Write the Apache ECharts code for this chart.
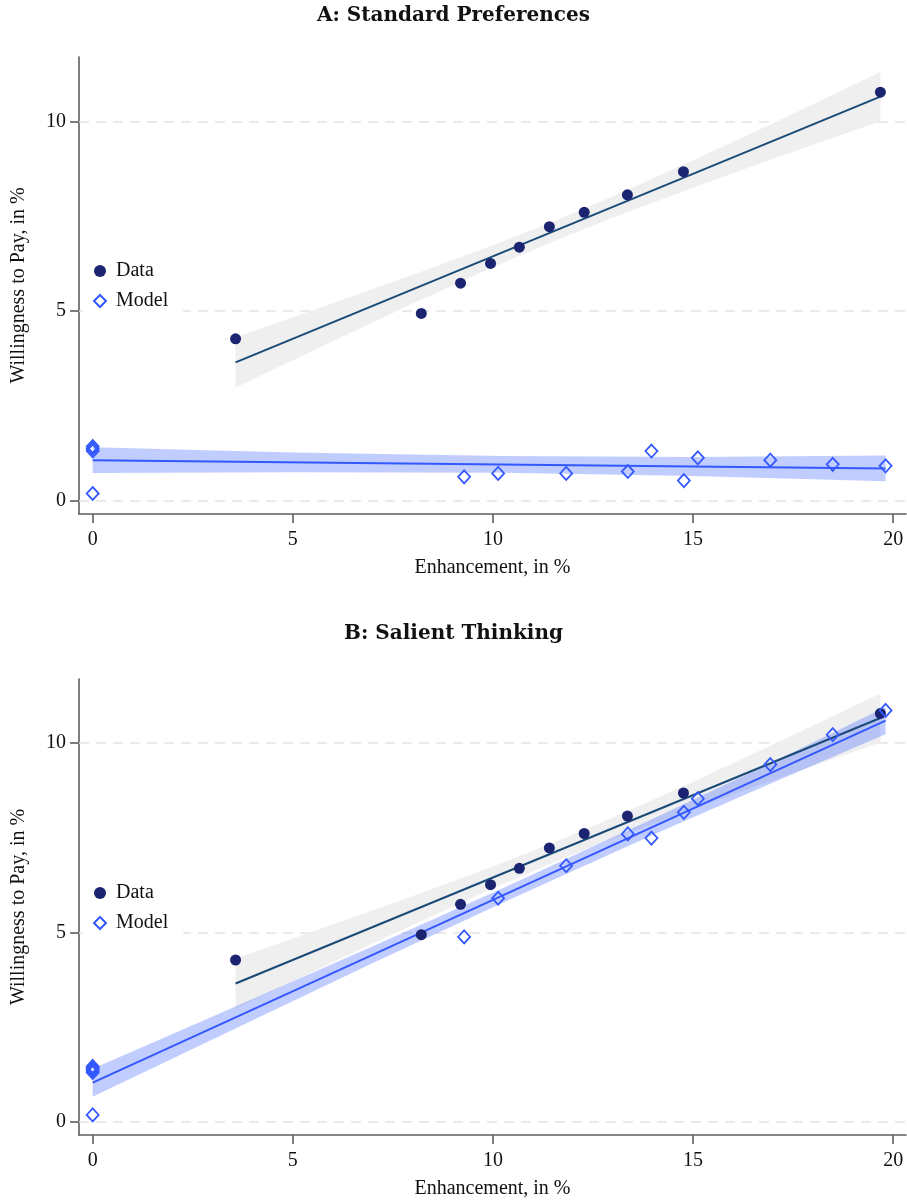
<!DOCTYPE html>
<html>
<head>
<meta charset="utf-8">
<title>Willingness to Pay vs Enhancement</title>
<script src="https://cdn.jsdelivr.net/npm/echarts@6/dist/echarts.min.js"></script>
<style>
  html, body { margin: 0; padding: 0; background: #ffffff; }
  #chart { width: 907px; height: 1202px; }
</style>
</head>
<body>
<div id="chart"></div>
<script>
// ---- Observed data (same in both panels) ----
const dataX = [3.57, 8.21, 9.19, 9.94, 10.66, 11.41, 12.28, 13.36, 14.76, 19.68];
const dataY = [4.27, 4.94, 5.74, 6.26, 6.69, 7.23, 7.61, 8.07, 8.68, 10.78];

// Linear fit of the observed data and its confidence band
const dataFitX = [3.57, 19.68];
const dataFitY = [3.65, 10.66];
const dataBandX  = [3.57, 6, 8, 10, 11.5, 13, 15, 17, 19.68];
const dataBandLo = [2.99, 4.21, 5.20, 6.16, 6.84, 7.47, 8.26, 9.02, 10.01];
const dataBandHi = [4.31, 5.21, 5.96, 6.74, 7.36, 8.03, 8.98, 9.96, 11.31];

// ---- Panel A: standard preferences model ----
const modelAX = [0, 0, 0, 0, 9.28, 10.13, 11.83, 13.37, 13.96, 14.77, 15.12, 16.93, 18.49, 19.81];
const modelAY = [1.43, 1.37, 1.31, 0.19, 0.63, 0.72, 0.72, 0.77, 1.31, 0.53, 1.13, 1.07, 0.96, 0.92];
const modelAFitX = [0, 19.81];
const modelAFitY = [1.07, 0.85];
const modelABandX  = [0, 5, 10.26, 15, 19.81];
const modelABandLo = [0.73, 0.75, 0.74, 0.65, 0.51];
const modelABandHi = [1.41, 1.27, 1.18, 1.15, 1.19];

// ---- Panel B: salient thinking model ----
const modelBX = [0, 0, 0, 0, 0, 0, 9.28, 10.13, 11.83, 13.37, 13.96, 14.77, 15.12, 16.93, 18.49, 19.81];
const modelBY = [1.46, 1.42, 1.38, 1.34, 1.30, 0.18, 4.88, 5.90, 6.76, 7.60, 7.49, 8.17, 8.53, 9.43, 10.22, 10.86];
const modelBFitX = [0, 19.81];
const modelBFitY = [1.03, 10.59];
const modelBBandX  = [0, 3.5, 7, 10.26, 14, 17, 19.81];
const modelBBandLo = [0.66, 2.43, 4.19, 5.79, 7.58, 8.96, 10.23];
const modelBBandHi = [1.40, 3.01, 4.63, 6.17, 8.00, 9.50, 10.95];

// ---- Axis ticks and text ----
const xTicks = [0, 5, 10, 15, 20];
const yTicks = [0, 5, 10];
const panelTitles = ['A: Standard Preferences', 'B: Salient Thinking'];
const xTitle = 'Enhancement, in %';
const yTitle = 'Willingness to Pay, in %';
const seriesNames = ['Data', 'Model'];

// ---- Styling ----
const SERIF = '"Liberation Serif", "Times New Roman", serif';
const TITLE_FONT = '"DejaVu Serif", serif';
const C_DOT = '#1b2470';
const C_DATA_LINE = '#1a4a78';
const C_DATA_BAND = '#efefef';
const C_MODEL = '#3358ff';
const C_MODEL_BAND = 'rgba(51, 88, 255, 0.30)';
const AXIS_GRAY = '#5e5e5e';

const zip = (xs, ys) => xs.map((x, i) => [x, ys[i]]);

// Shaded confidence band drawn as one polygon: upper edge left->right, lower edge back
function bandSeries(gridIdx, xs, lo, hi, fill, z) {
  return {
    type: 'custom',
    xAxisIndex: gridIdx,
    yAxisIndex: gridIdx,
    silent: true,
    z: z,
    data: xs.map((x, i) => [x, lo[i], hi[i]]),
    renderItem: function (params, api) {
      if (params.dataIndex !== 0) return null;
      const pts = [];
      for (let i = 0; i < xs.length; i++) pts.push(api.coord([xs[i], hi[i]]));
      for (let i = xs.length - 1; i >= 0; i--) pts.push(api.coord([xs[i], lo[i]]));
      return { type: 'polygon', shape: { points: pts }, style: { fill: fill } };
    }
  };
}

function fitSeries(gridIdx, xs, ys, color, width, z) {
  return {
    type: 'line',
    xAxisIndex: gridIdx,
    yAxisIndex: gridIdx,
    data: zip(xs, ys),
    showSymbol: false,
    symbol: 'none',
    silent: true,
    z: z,
    lineStyle: { color: color, width: width },
    emphasis: { disabled: true }
  };
}

function dotSeries(gridIdx) {
  return {
    name: seriesNames[0],
    type: 'scatter',
    xAxisIndex: gridIdx,
    yAxisIndex: gridIdx,
    data: zip(dataX, dataY),
    symbol: 'circle',
    symbolSize: 11,
    z: 5,
    itemStyle: { color: C_DOT, opacity: 1 },
    // dashed reference lines at the labelled y values
    markLine: {
      silent: true,
      symbol: 'none',
      label: { show: false },
      z: 1,
      lineStyle: { color: '#e4e4e4', type: [10, 7], width: 1.5 },
      data: yTicks.map(v => ({ yAxis: v }))
    }
  };
}

function diamondSeries(gridIdx, xs, ys) {
  return {
    name: seriesNames[1],
    type: 'scatter',
    xAxisIndex: gridIdx,
    yAxisIndex: gridIdx,
    data: zip(xs, ys),
    symbol: 'diamond',
    symbolSize: [12, 13],
    z: 6,
    itemStyle: { color: 'rgba(255,255,255,0)', borderColor: C_MODEL, borderWidth: 1.8, opacity: 1 }
  };
}

function xAxis(gridIdx) {
  return {
    type: 'value',
    gridIndex: gridIdx,
    min: -0.342,
    max: 20.32,
    name: xTitle,
    nameLocation: 'middle',
    nameGap: 44,
    nameTextStyle: { fontFamily: SERIF, fontSize: 20, color: '#111' },
    axisLine: { onZero: false, lineStyle: { color: AXIS_GRAY, width: 1.6 } },
    axisTick: { show: true, length: 9, customValues: xTicks, lineStyle: { color: AXIS_GRAY, width: 1.6 } },
    axisLabel: { customValues: xTicks, margin: 16, fontFamily: SERIF, fontSize: 20, color: '#111' },
    splitLine: { show: false }
  };
}

function yAxis(gridIdx, max) {
  return {
    type: 'value',
    gridIndex: gridIdx,
    min: -0.351,
    max: max,
    name: yTitle,
    nameLocation: 'middle',
    nameGap: 50,
    nameRotate: 90,
    nameTextStyle: { fontFamily: SERIF, fontSize: 20, color: '#111' },
    axisLine: { onZero: false, lineStyle: { color: AXIS_GRAY, width: 1.6 } },
    axisTick: { show: true, length: 9, customValues: yTicks, lineStyle: { color: AXIS_GRAY, width: 1.6 } },
    axisLabel: { customValues: yTicks, margin: 13, fontFamily: SERIF, fontSize: 20, color: '#111' },
    splitLine: { show: false }
  };
}

function legend(top) {
  return {
    orient: 'vertical',
    left: 83,
    top: top,
    padding: [5, 15, 5, 10],
    backgroundColor: '#ffffff',
    itemWidth: 12,
    itemHeight: 12,
    itemGap: 10,
    selectedMode: false,
    data: seriesNames,
    textStyle: { fontFamily: SERIF, fontSize: 20, color: '#111', lineHeight: 20, padding: [0, 0, 0, 5] }
  };
}

const chart = echarts.init(document.getElementById('chart'), null, { renderer: 'canvas' });

chart.setOption({
  animation: false,
  backgroundColor: '#ffffff',
  title: [
    { text: panelTitles[0], left: 'center', top: 1,
      textStyle: { fontFamily: TITLE_FONT, fontWeight: 'bold', fontSize: 20, color: '#111' } },
    { text: panelTitles[1], left: 'center', top: 619,
      textStyle: { fontFamily: TITLE_FONT, fontWeight: 'bold', fontSize: 20, color: '#111' } }
  ],
  legend: [legend(256), legend(878)],
  grid: [
    { left: 79, top: 57, width: 827, height: 457 },
    { left: 79, top: 679, width: 827, height: 456 }
  ],
  xAxis: [xAxis(0), xAxis(1)],
  yAxis: [yAxis(0, 11.707), yAxis(1, 11.69)],
  series: [
    // Panel A
    bandSeries(0, dataBandX, dataBandLo, dataBandHi, C_DATA_BAND, 1),
    bandSeries(0, modelABandX, modelABandLo, modelABandHi, C_MODEL_BAND, 2),
    fitSeries(0, dataFitX, dataFitY, C_DATA_LINE, 2, 3),
    fitSeries(0, modelAFitX, modelAFitY, C_MODEL, 2, 3),
    dotSeries(0),
    diamondSeries(0, modelAX, modelAY),
    // Panel B
    bandSeries(1, dataBandX, dataBandLo, dataBandHi, C_DATA_BAND, 1),
    bandSeries(1, modelBBandX, modelBBandLo, modelBBandHi, C_MODEL_BAND, 2),
    fitSeries(1, dataFitX, dataFitY, C_DATA_LINE, 2, 3),
    fitSeries(1, modelBFitX, modelBFitY, C_MODEL, 2, 3),
    dotSeries(1),
    diamondSeries(1, modelBX, modelBY)
  ]
});
</script>
</body>
</html>
